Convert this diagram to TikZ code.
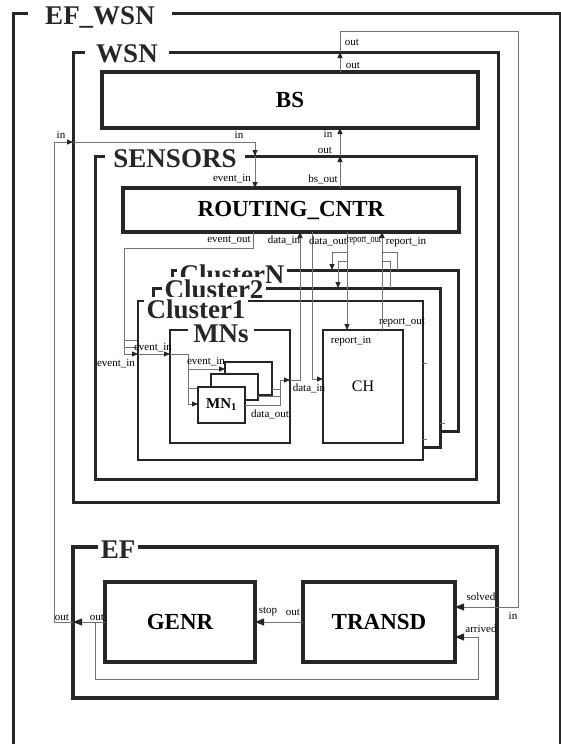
\documentclass[tikz,border=0pt]{standalone}
\usepackage{fontspec}
\setmainfont{Liberation Serif}
\usetikzlibrary{arrows.meta}

\begin{document}
\begin{tikzpicture}[
		x=1pt, y=-1pt,
		frame/.style={rectangle, draw=black!85, fill=white, line width=3pt,
				anchor=north west, inner sep=0pt, outer sep=0pt},
		blk/.style={frame, line width=3.5pt,
				font=\fontsize{23}{23}\selectfont\bfseries},
		mnbox/.style={frame, line width=2pt,
				font=\fontsize{15}{15}\selectfont\bfseries},
		ttl/.style={fill=white, text=black!85, anchor=base, inner ysep=2pt,
				font=\fontsize{27}{27}\selectfont\bfseries},
		conn/.style={draw=black!55, line width=0.8pt},
		arr/.style={conn, -{Triangle[length=6pt, width=5pt, color=black!85]}},
		bigarr/.style={conn, -{Triangle[length=9pt, width=7pt, color=black!85]}},
		lbl/.style={inner sep=0pt, font=\fontsize{11}{11}\selectfont},
		]
		\useasboundingbox (0,0) rectangle (561,744);
		\clip (0,0) rectangle (561,744);

		% Ports on the frame and block borders
		\coordinate (bsOut)      at (340,72);
		\coordinate (wsnOut)     at (340,52);
		\coordinate (loopR)      at (518,31);
		\coordinate (solvedIn)   at (455,607);
		\coordinate (arrivedIn)  at (455,637);
		\coordinate (arrLoop)    at (478,679);
		\coordinate (genrTap)    at (95,622);
		\coordinate (efOut)      at (73,622);
		\coordinate (loopL)      at (54,142);
		\coordinate (wsnIn)      at (73,142);
		\coordinate (sensorsIn)  at (255,156);
		\coordinate (rEvIn)      at (255,188);
		\coordinate (rBsOut)     at (340,188);
		\coordinate (sensorsOut) at (340,156);
		\coordinate (bsIn)       at (340,128);
		\coordinate (evOut)      at (253,232);
		\coordinate (evBend)     at (124,248);
		\coordinate (clNIn)      at (172,340);
		\coordinate (cl2In)      at (153,347);
		\coordinate (cl1In)      at (138,354);
		\coordinate (mnsIn)      at (170,354);
		\coordinate (mnsBus)     at (188,354);
		\coordinate (mn3In)      at (225,369);
		\coordinate (mn2In)      at (211,388);
		\coordinate (mn1In)      at (198,404);
		\coordinate (mn3Out)     at (272,389);
		\coordinate (mn2Out)     at (258,396);
		\coordinate (mn1Out)     at (245,405);
		\coordinate (mnsBus2)    at (280,380);
		\coordinate (mnsOut)     at (290,380);
		\coordinate (rDataIn)    at (300,232);
		\coordinate (rDataOut)   at (312,232);
		\coordinate (chDataIn)   at (323,379);
		\coordinate (rRepOut)    at (347,232);
		\coordinate (chRepIn)    at (347,330);
		\coordinate (repA)       at (347,252);
		\coordinate (repB)       at (347,261);
		\coordinate (clNRepIn)   at (332,270);
		\coordinate (cl2RepIn)   at (338,288);
		\coordinate (rRepIn)     at (382,232);
		\coordinate (chRepOut)   at (382,330);
		\coordinate (repC)       at (382,252);
		\coordinate (repD)       at (382,261);
		\coordinate (clNRepOut)  at (397,270);
		\coordinate (cl2RepOut)  at (390,288);

		% EF_WSN
		\node[frame, minimum width=547, minimum height=760] (efwsn) at (13,13) {};
		\node[ttl, inner xsep=17pt] (efwsnT) at (100,24) {EF\_WSN};

		% WSN
		\node[frame, minimum width=425, minimum height=450] (wsn) at (73,52) {};
		\node[ttl, inner xsep=11pt] (wsnT) at (127,62) {WSN};
		\node[blk, minimum width=376, minimum height=56] (bs) at (102,72) {BS};

		% SENSORS
		\node[frame, minimum width=381, minimum height=323] (sensors) at (95,156) {};
		\node[ttl, inner xsep=8pt] (sensorsT) at (175,167) {SENSORS};
		\node[blk, minimum width=336, minimum height=44] (routing) at (123,188) {ROUTING\_CNTR};

		% event_in of the hidden clusters
		\draw[conn] (evBend |- clNIn) -- (clNIn);
		\draw[conn] (evBend |- cl2In) -- (cl2In);

		% Clusters (copies behind Cluster1)
		\node[frame, minimum width=286, minimum height=161] (clusterN) at (172,270) {};
		\node[ttl, inner xsep=3pt] (clusterNT) at (232,283) {ClusterN};
		\node[frame, minimum width=287, minimum height=159] (cluster2) at (153,288) {};
		\node[ttl, inner xsep=3pt] (cluster2T) at (214,298) {Cluster2};
		\node[frame, line width=2.2pt, minimum width=285, minimum height=159] (cluster1) at (138,301) {};
		\node[ttl, inner xsep=3pt] (cluster1T) at (196,318) {Cluster1};

		% MNs
		\node[frame, line width=2.5pt, minimum width=120, minimum height=113] (mns) at (170,330) {};
		\node[ttl, inner xsep=5pt] (mnsT) at (221,342) {MNs};
		\node[mnbox, minimum width=47, minimum height=33] (mn3) at (225,362) {};
		\node[mnbox, minimum width=47, minimum height=26] (mn2) at (211,374) {};
		\draw[arr]  (mnsBus) |- (mn3In);
		\draw[conn] (mnsBus) |- (mn2In);
		\node[mnbox, minimum width=47, minimum height=36] (mn1) at (198,387) {MN\textsubscript{1}};
		\draw[arr]  (mnsBus) |- (mn1In);

		% CH
		\node[frame, line width=2.5pt, minimum width=80, minimum height=113,
			font=\fontsize{16}{16}\selectfont] (ch) at (323,330) {CH};

		% EF
		\node[frame, line width=3.5pt, minimum width=424, minimum height=151] (ef) at (73,547) {};
		\node[ttl, inner xsep=3pt] (efT) at (118,558) {EF};
		\node[blk, minimum width=150, minimum height=80] (genr) at (105,582) {GENR};
		\node[blk, minimum width=152, minimum height=80] (transd) at (303,582) {TRANSD};

		% Connectors: WSN <-> EF
		\draw[arr]    (bsOut) -- (wsnOut);
		\draw[bigarr] (wsnOut) |- (loopR) |- (solvedIn);
		\draw[bigarr] (transd.west) -- (genr.east);
		\draw[bigarr] (genr.west) -- (efOut);
		\draw[bigarr] (genrTap) |- (arrLoop) |- (arrivedIn);
		\draw[arr]    (efOut) -| (loopL) -- (wsnIn);

		% Connectors: SENSORS
		\draw[arr] (wsnIn) -| (sensorsIn);
		\draw[arr] (sensorsIn) -- (rEvIn);
		\draw[arr] (rBsOut) -- (sensorsOut);
		\draw[arr] (sensorsOut) -- (bsIn);
		\draw[arr] (evOut) |- (evBend) |- (cl1In);
		\draw[arr] (cl1In) -- (mnsIn);
		\draw[conn] (mnsIn) -- (mnsBus);

		% Connectors: data and reports
		\draw[conn] (mn3Out) -| (mnsBus2);
		\draw[conn] (mn2Out) -| (mnsBus2);
		\draw[conn] (mn1Out) -| (mnsBus2);
		\draw[arr]  (mnsBus2) -- (mnsOut);
		\draw[arr]  (mnsOut) -| (rDataIn);
		\draw[arr]  (rDataOut) |- (chDataIn);
		\draw[arr]  (rRepOut) -- (chRepIn);
		\draw[arr]  (repA) -| (clNRepIn);
		\draw[arr]  (repB) -| (cl2RepIn);
		\draw[arr]  (chRepOut) -- (rRepIn);
		\draw[conn] (clNRepOut) |- (repC);
		\draw[conn] (cl2RepOut) |- (repD);
		\draw[conn] (cluster1.east |- 0,363) -- ++(4,0);
		\draw[conn] (cluster1.east |- 0,439) -- ++(4,0);
		\draw[conn] (cluster2.east |- 0,423) -- ++(5,0);

		% Port labels
		\node[lbl] (lWsnOut)    at (352,42)  {out};
		\node[lbl] (lBsOut)     at (353,65)  {out};
		\node[lbl] (lWsnIn)     at (61,135)  {in};
		\node[lbl] (lSensIn)    at (239,135) {in};
		\node[lbl] (lBsIn)      at (328,134) {in};
		\node[lbl] (lSensOut)   at (325,150) {out};
		\node[lbl] (lREvIn)     at (232,179) {event\_in};
		\node[lbl] (lRBsOut)    at (323,179) {bs\_out};
		\node[lbl] (lREvOut)    at (229,240) {event\_out};
		\node[lbl] (lRDataIn)   at (284,240) {data\_in};
		\node[lbl] (lRDataOut)  at (328,241) {data\_out};
		\node[lbl] (lRRepOut)   at (364,241) {\scalebox{0.75}[1]{report\_out}};
		\node[lbl] (lRRepIn)    at (406,242) {report\_in};
		\node[lbl] (lCl1EvIn)   at (116,364) {event\_in};
		\node[lbl] (lMnsEvIn)   at (153,348) {event\_in};
		\node[lbl] (lMnEvIn)    at (206,362) {event\_in};
		\node[lbl] (lMnDataOut) at (270,414) {data\_out};
		\node[lbl] (lChDataIn)  at (309,388) {data\_in};
		\node[lbl] (lChRepIn)   at (351,341) {report\_in};
		\node[lbl] (lChRepOut)  at (402,323) {report\_out};
		\node[lbl] (lEfOut)     at (62,617)  {out};
		\node[lbl] (lGenrOut)   at (97,617)  {out};
		\node[lbl] (lGenrStop)  at (268,612) {stop};
		\node[lbl] (lTrOut)     at (293,612) {out};
		\node[lbl] (lTrSolved)  at (481,597) {solved};
		\node[lbl] (lEfIn)      at (513,616) {in};
		\node[lbl] (lTrArrived) at (481,629) {arrived};

	\end{tikzpicture}
\end{document}
